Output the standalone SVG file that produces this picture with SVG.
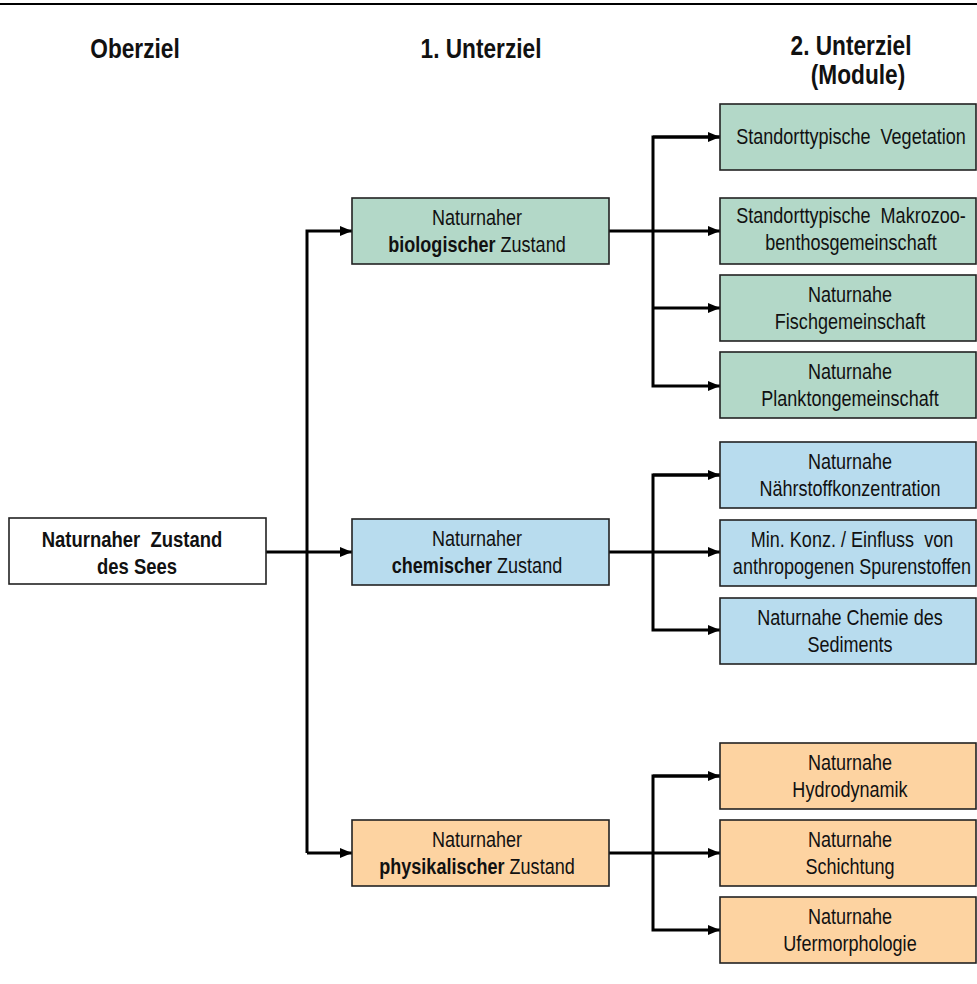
<svg xmlns="http://www.w3.org/2000/svg" width="977" height="984" viewBox="0 0 977 984">
<style>
  .t{font-family:"Liberation Sans",Arial,sans-serif;font-size:22px;fill:#111;text-anchor:middle}
  .h{font-family:"Liberation Sans",Arial,sans-serif;font-size:27px;font-weight:bold;fill:#111;text-anchor:middle}
  .b{font-weight:bold}
  .box{stroke:#222;stroke-width:1.6}
  .g{fill:#b3d8c8}
  .bl{fill:#b8dcee}
  .o{fill:#fdd3a1}
  .w{fill:#fff}
  .c{fill:none;stroke:#000;stroke-width:3}
</style>
<defs>
  <marker id="ah" markerUnits="userSpaceOnUse" viewBox="0 0 12 10" refX="12" refY="5" markerWidth="12" markerHeight="10" orient="auto">
    <path d="M0,0 L12,5 L0,10 z" fill="#000"/>
  </marker>
</defs>
<rect width="977" height="984" fill="#fff"/>
<line x1="0" y1="4" x2="977" y2="4" stroke="#000" stroke-width="2"/>

<g id="headers">
  <text class="h" transform="translate(135,58) scale(0.84,1)">Oberziel</text>
  <text class="h" transform="translate(481,58) scale(0.84,1)">1. Unterziel</text>
  <text class="h" transform="translate(851,55) scale(0.84,1)">2. Unterziel</text>
  <text class="h" transform="translate(858,84) scale(0.84,1)">(Module)</text>
</g>

<g id="connectors">
  <path class="c" d="M266,552 H352" marker-end="url(#ah)"/>
  <path class="c" d="M307,853 V231 H352" marker-end="url(#ah)"/>
  <path class="c" d="M307,853 H352" marker-end="url(#ah)"/>
  <path class="c" d="M609,231 H720" marker-end="url(#ah)"/>
  <path class="c" d="M720,137 H653 V386 H720" marker-end="url(#ah)"/>
  <path class="c" d="M653,137 H720" marker-end="url(#ah)"/>
  <path class="c" d="M653,308 H720" marker-end="url(#ah)"/>
  <path class="c" d="M609,552 H720" marker-end="url(#ah)"/>
  <path class="c" d="M720,475 H653 V630 H720" marker-end="url(#ah)"/>
  <path class="c" d="M653,475 H720" marker-end="url(#ah)"/>
  <path class="c" d="M609,853 H720" marker-end="url(#ah)"/>
  <path class="c" d="M720,776 H653 V930 H720" marker-end="url(#ah)"/>
  <path class="c" d="M653,776 H720" marker-end="url(#ah)"/>
</g>

<g id="oberziel">
  <rect class="box w" x="9" y="518" width="257" height="66"/>
  <text class="t b" transform="translate(132,547) scale(0.84,1)">Naturnaher &#160;Zustand</text>
  <text class="t b" transform="translate(137,574) scale(0.84,1)">des Sees</text>
</g>

<g id="bio">
  <rect class="box g" x="352" y="198" width="257" height="66"/>
  <text class="t" transform="translate(477,225) scale(0.82,1)">Naturnaher</text>
  <text class="t" transform="translate(477,252) scale(0.82,1)"><tspan class="b">biologischer</tspan> Zustand</text>
</g>
<g id="chem">
  <rect class="box bl" x="352" y="519" width="257" height="66"/>
  <text class="t" transform="translate(477,546) scale(0.82,1)">Naturnaher</text>
  <text class="t" transform="translate(477,573) scale(0.82,1)"><tspan class="b">chemischer</tspan> Zustand</text>
</g>
<g id="phys">
  <rect class="box o" x="352" y="820" width="257" height="66"/>
  <text class="t" transform="translate(477,847) scale(0.82,1)">Naturnaher</text>
  <text class="t" transform="translate(477,874) scale(0.82,1)"><tspan class="b">physikalischer</tspan> Zustand</text>
</g>

<g id="m-vegetation">
  <rect class="box g" x="720" y="104" width="256" height="66"/>
  <text class="t" transform="translate(851,144) scale(0.82,1)">Standorttypische &#160;Vegetation</text>
</g>
<g id="m-makrozoobenthos">
  <rect class="box g" x="720" y="198" width="256" height="66"/>
  <text class="t" transform="translate(851,223) scale(0.82,1)">Standorttypische &#160;Makrozoo-</text>
  <text class="t" transform="translate(851,250) scale(0.82,1)">benthosgemeinschaft</text>
</g>
<g id="m-fisch">
  <rect class="box g" x="720" y="275" width="256" height="66"/>
  <text class="t" transform="translate(850,302) scale(0.82,1)">Naturnahe</text>
  <text class="t" transform="translate(850,329) scale(0.82,1)">Fischgemeinschaft</text>
</g>
<g id="m-plankton">
  <rect class="box g" x="720" y="352" width="256" height="66"/>
  <text class="t" transform="translate(850,379) scale(0.82,1)">Naturnahe</text>
  <text class="t" transform="translate(850,406) scale(0.82,1)">Planktongemeinschaft</text>
</g>

<g id="m-naehrstoff">
  <rect class="box bl" x="720" y="442" width="256" height="66"/>
  <text class="t" transform="translate(850,469) scale(0.82,1)">Naturnahe</text>
  <text class="t" transform="translate(850,496) scale(0.82,1)">Nährstoffkonzentration</text>
</g>
<g id="m-spurenstoffe">
  <rect class="box bl" x="720" y="520" width="256" height="66"/>
  <text class="t" transform="translate(852,547) scale(0.82,1)">Min. Konz. / Einfluss &#160;von</text>
  <text class="t" transform="translate(852,574) scale(0.82,1)">anthropogenen Spurenstoffen</text>
</g>
<g id="m-sediment">
  <rect class="box bl" x="720" y="598" width="256" height="66"/>
  <text class="t" transform="translate(850,625) scale(0.82,1)">Naturnahe Chemie des</text>
  <text class="t" transform="translate(850,652) scale(0.82,1)">Sediments</text>
</g>

<g id="m-hydrodynamik">
  <rect class="box o" x="720" y="743" width="256" height="66"/>
  <text class="t" transform="translate(850,770) scale(0.82,1)">Naturnahe</text>
  <text class="t" transform="translate(850,797) scale(0.82,1)">Hydrodynamik</text>
</g>
<g id="m-schichtung">
  <rect class="box o" x="720" y="820" width="256" height="66"/>
  <text class="t" transform="translate(850,847) scale(0.82,1)">Naturnahe</text>
  <text class="t" transform="translate(850,874) scale(0.82,1)">Schichtung</text>
</g>
<g id="m-ufer">
  <rect class="box o" x="720" y="897" width="256" height="66"/>
  <text class="t" transform="translate(850,924) scale(0.82,1)">Naturnahe</text>
  <text class="t" transform="translate(850,951) scale(0.82,1)">Ufermorphologie</text>
</g>
</svg>
